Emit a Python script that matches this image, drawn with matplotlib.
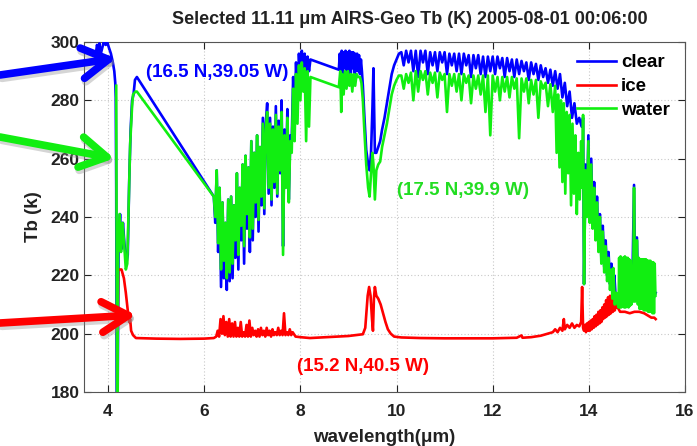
import matplotlib
matplotlib.use("Agg")
import matplotlib.pyplot as plt

plt.rcParams['font.family'] = ['Liberation Sans', 'DejaVu Sans']
plt.rcParams['font.weight'] = 'bold'

# ---------------- data ----------------
clear_wl = [3.74, 3.77, 3.80, 3.82, 3.85, 3.88, 3.91, 3.95, 3.98, 4.02, 4.06, 4.10, 4.13, 4.15, 4.16,
            4.17, 4.18, 4.20, 4.22, 4.25, 4.28, 4.31, 4.34, 4.38, 4.41, 4.44, 4.47, 4.50, 4.53, 4.56, 4.60,
            6.20, 6.23, 6.26, 6.29, 6.32, 6.35, 6.38, 6.41, 6.44, 6.47, 6.50, 6.53, 6.56, 6.59, 6.62, 6.65,
            6.68, 6.71, 6.74, 6.77, 6.80, 6.83, 6.86, 6.89, 6.92, 6.95, 6.98, 7.01, 7.04, 7.07, 7.10, 7.13,
            7.16, 7.19, 7.22, 7.25, 7.28, 7.31, 7.34, 7.37, 7.40, 7.43, 7.46, 7.49, 7.52, 7.55, 7.58, 7.61,
            7.64, 7.67, 7.70, 7.73, 7.76, 7.79, 7.82, 7.85, 7.88, 7.91, 7.94, 7.97, 8.00, 8.03, 8.06, 8.09,
            8.12, 8.15, 8.18, 8.21,
            8.80, 8.82, 8.84, 8.86, 8.88, 8.90, 8.92, 8.94, 8.96, 8.98, 9.00, 9.02, 9.04, 9.06, 9.08, 9.10,
            9.12, 9.14, 9.16, 9.18, 9.20, 9.22, 9.24, 9.26,
            9.28, 9.30, 9.33, 9.37, 9.41, 9.44, 9.47, 9.50, 9.52, 9.55, 9.58, 9.62, 9.66, 9.70, 9.75, 9.80,
            9.85, 9.90, 9.95, 10.00, 10.05,
            10.10, 10.15, 10.20, 10.25, 10.30, 10.35, 10.40, 10.45, 10.50, 10.55, 10.60, 10.65, 10.70, 10.75,
            10.80, 10.85, 10.90, 10.95, 11.00, 11.05, 11.10, 11.15, 11.20, 11.25, 11.30, 11.35, 11.40, 11.45,
            11.50, 11.55, 11.60, 11.65, 11.70, 11.75, 11.80, 11.85, 11.90, 11.95, 12.00, 12.05, 12.10, 12.15,
            12.20, 12.25, 12.30, 12.35, 12.40, 12.45, 12.50, 12.55, 12.60, 12.65, 12.70, 12.75, 12.80, 12.85,
            12.90, 12.95, 13.00, 13.05, 13.10, 13.15, 13.20, 13.25, 13.30,
            13.35, 13.40, 13.45, 13.50, 13.55, 13.60, 13.65, 13.70, 13.75, 13.80, 13.85, 13.88,
            13.90, 13.93, 13.96, 13.99, 14.02, 14.05, 14.08, 14.11, 14.14, 14.17, 14.20, 14.23, 14.26, 14.29,
            14.32, 14.35, 14.38, 14.41, 14.44, 14.47, 14.50, 14.53, 14.56, 14.60, 14.63, 14.70, 14.80, 14.90,
            14.94, 14.97, 15.00, 15.03, 15.10, 15.20, 15.30, 15.39]
clear_tb = [295, 299, 297, 299.5, 296, 298, 300, 299, 300, 298, 296, 293, 290, 286, 281,
            250, 175, 178, 233, 241, 229, 238, 231, 224, 227, 252, 270, 280, 282, 287, 288,
            247, 238, 256, 228, 250, 216, 245, 219, 238, 215, 246, 218, 247, 219, 244, 226,
            255, 222, 250, 232, 258, 224, 261, 236, 257, 228, 266, 232, 262, 240, 268, 235,
            264, 244, 274, 241, 272, 279, 248, 274, 244, 271, 250, 278, 247, 273, 255, 280,
            230, 270, 252, 277, 246, 268, 266, 288, 272, 293, 280, 296, 288, 297, 291, 296,
            280, 295, 290, 294,
            290.5, 296, 290, 297, 289, 296.5, 291, 297, 289, 296.5, 290, 297, 289, 296.5, 291, 296.5,
            289, 296, 290, 296, 290, 295.5, 289, 294,
            290, 285, 275, 263, 258, 256, 262, 278, 291, 262, 262, 264, 266, 270, 274, 279,
            284, 289, 292, 294, 296,
            296.5, 292, 297, 293, 297, 290, 297, 288, 297, 293, 297, 289, 296.5, 292,
            296.5, 290, 296.5, 293, 296.5, 289, 296, 292, 296, 290, 296, 289, 296, 292,
            295.5, 288, 295.5, 291, 295.5, 289, 295, 288, 295, 290, 295, 289, 295, 291,
            294.5, 288, 294.5, 290, 294, 288, 294, 289, 293.5, 290, 293, 287, 293, 289,
            292.5, 287, 292, 288, 291, 286, 290.5, 285, 290,
            284, 289, 281, 286, 278, 283, 274, 279, 272, 274, 271, 274,
            217, 258, 242, 268, 240, 260, 238, 252, 234, 247, 230, 241, 226, 237,
            223, 232, 220, 228, 217, 224, 214, 220, 212, 211, 212, 212, 212, 212,
            251, 212, 233, 211, 211, 210, 210, 214]

ice_wl = [4.20, 4.21, 4.28, 4.33, 4.37, 4.41, 4.44, 4.46, 4.48, 4.52, 4.58, 5.00, 5.50, 6.00, 6.20,
          6.25, 6.28, 6.31, 6.34, 6.37, 6.40, 6.43, 6.46, 6.49, 6.52, 6.55, 6.58, 6.61, 6.64, 6.67, 6.70,
          6.73, 6.76, 6.79, 6.82, 6.85, 6.88, 6.91, 6.94, 6.97, 7.00, 7.03, 7.06, 7.09, 7.12, 7.15, 7.18,
          7.21, 7.24, 7.27, 7.30, 7.33, 7.36, 7.39, 7.42, 7.45, 7.48, 7.51, 7.54, 7.57, 7.60, 7.63, 7.66,
          7.69, 7.72, 7.75, 7.78, 7.81, 7.84, 7.90, 8.00, 8.20, 8.80, 9.00, 9.30, 9.35, 9.40, 9.43, 9.46,
          9.49, 9.51, 9.53, 9.55, 9.58, 9.62, 9.67, 9.72, 9.77, 9.82, 9.88, 9.95, 10.10, 10.50, 11.00,
          11.50, 12.00, 12.50, 12.60, 12.62, 12.80, 13.00, 13.15, 13.25, 13.30, 13.35, 13.40, 13.45, 13.48,
          13.50, 13.55, 13.60, 13.65, 13.70, 13.75, 13.80, 13.84, 13.86, 13.88,
          13.90, 13.92, 13.94, 13.96, 13.98, 14.00, 14.02, 14.04, 14.06, 14.08, 14.10, 14.12, 14.14, 14.16,
          14.18, 14.20, 14.22, 14.24, 14.26, 14.28, 14.30, 14.32, 14.34, 14.36, 14.38, 14.40, 14.42, 14.44,
          14.46, 14.48, 14.50, 14.52, 14.54, 14.56, 14.58, 14.60, 14.65, 14.75, 14.85, 14.95, 15.05, 15.15,
          15.25, 15.30, 15.36, 15.39]
ice_tb = [198, 222, 222, 219, 214, 208, 204, 205, 201, 199.5, 198.5, 198.3, 198.2, 198.3, 198.5,
          199, 201, 199, 205, 200, 206, 199.5, 204, 199, 205, 199, 203.5, 199, 204, 199, 202,
          199, 204, 199, 200.5, 199, 203, 199, 204.5, 199, 202, 199.5, 201, 199, 201.5, 199, 202,
          199.5, 201, 199, 202, 199.5, 201, 199, 201.5, 199.5, 200.5, 199.5, 202, 199.5, 201, 199.5, 207,
          199.5, 200.5, 199.5, 201.5, 199.5, 200.5, 199, 198.8, 198.5, 199, 199.2, 199.8, 202, 213, 216, 213,
          205, 201, 212, 216, 213, 212, 210, 207, 204, 201.5, 200, 199, 198.7, 198.5, 198.4,
          198.4, 198.4, 198.6, 199.4, 198.6, 198.8, 199.3, 200, 200.5, 201.5, 200.5, 202, 201, 205,
          201.5, 203, 202, 203.5, 202, 203, 202.5, 204, 216, 202,
          201, 203, 200.5, 203.5, 201, 204, 201, 204.5, 201.5, 205, 202, 206, 202.5, 206.5,
          203, 207.5, 203.5, 208, 204, 209, 205, 210, 205.5, 211.5, 206, 212.5, 206.5, 213,
          207, 212, 207.5, 211, 208, 210, 209, 209, 207.5, 207.5, 207, 207.5, 207.5, 207,
          206, 205.5, 205.5, 205]

water_wl = [4.17, 4.18, 4.19, 4.21, 4.24, 4.27, 4.30, 4.33, 4.37, 4.40, 4.43, 4.46, 4.50, 4.52, 4.57, 4.60,
            6.20, 6.23, 6.26, 6.29, 6.32, 6.35, 6.38, 6.41, 6.44, 6.47, 6.50, 6.53, 6.56, 6.59, 6.62, 6.65,
            6.68, 6.71, 6.74, 6.77, 6.80, 6.83, 6.86, 6.89, 6.92, 6.95, 6.98, 7.01, 7.04, 7.07, 7.10, 7.13,
            7.16, 7.19, 7.22, 7.25, 7.28, 7.31, 7.34, 7.37, 7.40, 7.43, 7.46, 7.49, 7.52, 7.55, 7.58, 7.61,
            7.64, 7.67, 7.70, 7.73, 7.76, 7.79, 7.82, 7.85, 7.88, 7.91, 7.94, 7.97, 8.00, 8.03, 8.06, 8.09,
            8.12, 8.15, 8.18, 8.21,
            8.80, 8.83, 8.85, 8.87, 8.90, 8.93, 8.96, 8.99, 9.02, 9.05, 9.08, 9.11, 9.14, 9.17, 9.20, 9.24,
            9.27, 9.30, 9.33, 9.37, 9.41, 9.44, 9.47, 9.50, 9.52, 9.55, 9.58, 9.62, 9.66, 9.70, 9.75, 9.80,
            9.85, 9.90, 9.95, 10.00, 10.05,
            10.10, 10.15, 10.20, 10.25, 10.30, 10.35, 10.40, 10.45, 10.50, 10.55, 10.60, 10.65, 10.70, 10.75,
            10.80, 10.85, 10.90, 10.95, 11.00, 11.05, 11.10, 11.15, 11.20, 11.25, 11.30, 11.35, 11.40, 11.45,
            11.50, 11.55, 11.60, 11.65, 11.70, 11.75, 11.80, 11.85, 11.90, 11.95, 12.00, 12.05, 12.10, 12.15,
            12.20, 12.25, 12.30, 12.35, 12.40, 12.45, 12.50, 12.55, 12.60, 12.65, 12.70, 12.75, 12.80, 12.85,
            12.90, 12.95, 13.00, 13.05, 13.10, 13.15, 13.20, 13.25, 13.30,
            13.33, 13.36, 13.39, 13.42, 13.45, 13.48, 13.51, 13.54, 13.57, 13.60, 13.63, 13.66, 13.69, 13.72,
            13.75, 13.78, 13.81, 13.84, 13.86, 13.88,
            13.90, 13.93, 13.96, 13.99, 14.02, 14.05, 14.08, 14.11, 14.14, 14.17, 14.20, 14.23, 14.26, 14.29,
            14.32, 14.35, 14.38, 14.41, 14.44, 14.47, 14.49, 14.51, 14.54, 14.57, 14.60,
            14.620, 14.630, 14.645, 14.660, 14.675, 14.690, 14.705, 14.720, 14.735, 14.750, 14.765, 14.780,
            14.795, 14.810, 14.825, 14.840, 14.855, 14.870, 14.885, 14.900, 14.920, 14.940, 14.960, 14.980,
            15.000, 15.020, 15.040, 15.055, 15.070, 15.085, 15.100, 15.115, 15.130, 15.145, 15.160, 15.175,
            15.190, 15.205, 15.220, 15.235, 15.250, 15.265, 15.280, 15.295, 15.310, 15.325, 15.340, 15.355,
            15.370, 15.385]
water_tb = [285, 220, 175, 230, 241, 228, 238, 232, 222, 224, 245, 265, 278, 282, 283, 283,
            247, 240, 256, 231, 250, 222, 245, 225, 238, 219, 246, 221, 247, 224, 244, 232,
            255, 227, 250, 237, 258, 230, 261, 241, 257, 233, 266, 236, 262, 245, 268, 239,
            264, 247, 272, 243, 270, 276, 250, 272, 246, 270, 252, 275, 248, 271, 256, 276,
            227, 268, 250, 274, 245, 266, 262, 284, 266, 289, 272, 292, 280, 293, 283, 291,
            266, 290, 271, 288,
            284.5, 290, 276, 289, 282, 290, 284, 290, 285, 289, 283, 289, 285, 289, 288, 288,
            286, 280, 270, 258, 250, 247, 255, 262, 258, 246, 256, 258, 259, 264, 268, 272,
            277, 282, 285, 287, 288.5,
            288.5, 284, 289, 286, 289.5, 280, 290, 283, 290, 287, 290, 282, 289.5, 286,
            289.5, 281, 289.5, 287, 289, 276, 289, 285, 289, 283, 289, 280, 289, 286,
            288.5, 279, 288.5, 284, 288.5, 282, 288.5, 276, 288.5, 268, 288.5, 283, 288, 280,
            288, 283, 288, 281, 288, 284, 287.5, 267, 287.5, 283, 287.5, 279, 287, 282,
            287, 274, 286.5, 284, 286, 278, 285.5, 276, 285,
            262, 282, 257, 280, 252, 279, 248, 276, 255, 275, 244, 272, 248, 268,
            241, 262, 246, 266, 250, 275,
            217, 256, 240, 266, 238, 258, 236, 250, 232, 245, 228, 240, 224, 235,
            221, 230, 218, 226, 215, 222, 212, 222.5, 210, 214, 210,
            209, 226, 209, 226.5, 209, 226, 209.5, 226, 209, 226.5, 209, 226,
            209.5, 226, 209, 225.5, 209.5, 225, 210, 214, 211, 250, 211, 212,
            232, 210, 226, 208.5, 225.5, 208.5, 225.5, 208.5, 225.5, 208, 225.5, 208,
            225.5, 208, 225, 207.5, 225, 207.5, 225, 207.5, 224.5, 207, 224.5, 207,
            224, 213]

series_labels = ['clear', 'ice', 'water']
title_text = 'Selected 11.11 \u03bcm AIRS-Geo Tb (K) 2005-08-01 00:06:00'
xlabel_text = 'wavelength(\u03bcm)'
ylabel_text = 'Tb (k)'
xticks = [4, 6, 8, 10, 12, 14, 16]
yticks = [180, 200, 220, 240, 260, 280, 300]
annotations = [('(16.5 N,39.05 W)', 4.79, 289.7, 'blue'),
               ('(17.5 N,39.9 W)', 10.0, 249.0, '#22dd22'),
               ('(15.2 N,40.5 W)', 7.94, 188.8, 'red')]

# ---------------- figure ----------------
W, H = 697, 446
fig = plt.figure(figsize=(W / 100, H / 100), dpi=100)
ax = fig.add_axes([84 / W, 54 / H, 601 / W, 350 / H])

green = '#11ee11'
ax.plot(clear_wl, clear_tb, color='#0000ff', lw=1.9, label=series_labels[0], zorder=3)
ax.plot(ice_wl, ice_tb, color='#ff0000', lw=1.9, label=series_labels[1], zorder=4)
ax.plot(water_wl, water_tb, color=green, lw=1.9, label=series_labels[2], zorder=5)

ax.set_xlim(3.5, 16)
ax.set_ylim(180, 300)
ax.set_xticks(xticks)
ax.set_yticks(yticks)
ax.tick_params(direction='in', length=5, width=0.8, top=True, right=True,
               labelsize=12.5, colors='#222222')
ax.tick_params(axis='x', pad=9)
ax.tick_params(axis='y', pad=3)
for lab in ax.get_xticklabels() + ax.get_yticklabels():
    lab.set_fontweight('bold')
for sp in ax.spines.values():
    sp.set_color('#555555')
    sp.set_linewidth(0.8)
ax.grid(True, color='#c8c8c8', linestyle=(0, (1, 2)), linewidth=0.8, zorder=0)
ax.set_axisbelow(True)

ax.set_title(title_text, fontsize=13, fontweight='bold', pad=13, color='#222222', x=0.542)
ax.set_xlabel(xlabel_text, fontsize=13.5, fontweight='bold', labelpad=7, color='#222222')
ax.set_ylabel(ylabel_text, fontsize=13.5, fontweight='bold', labelpad=6, color='#222222')

for txt, x, y, c in annotations:
    ax.text(x, y, txt, color=c, fontsize=13.5, fontweight='bold', va='center', ha='left', zorder=6)

leg = ax.legend(loc='upper left', bbox_to_anchor=(0.82, 0.965), frameon=False,
                borderpad=0, borderaxespad=0, handlelength=2.1, handletextpad=0.25,
                labelspacing=0.35, prop={'size': 13.5, 'weight': 'bold'})

# ---------------- arrows (outside the axes, left side) ----------------
fig.canvas.draw()
arrow_specs = [((4.166, 294.4), (0, 371), '#0000ff'),
               ((4.13, 260.1), (0, 309), '#11ee11'),
               ((4.58, 206.4), (0, 123), '#ff0000')]
astyle = '->,head_length=1.9,head_width=1.1'
for tip, start, col in arrow_specs:
    tip_px = ax.transData.transform(tip)
    # shadow
    ax.annotate('', xy=(tip_px[0] + 2, tip_px[1] - 3), xycoords='figure pixels',
                xytext=(start[0] + 2, start[1] - 3), textcoords='figure pixels',
                arrowprops=dict(arrowstyle=astyle, lw=6,
                                color='#888888', alpha=0.35, shrinkA=0, shrinkB=0,
                                mutation_scale=10, capstyle='round', joinstyle='round'),
                annotation_clip=False, zorder=7)
    ax.annotate('', xy=tip, xycoords='data',
                xytext=start, textcoords='figure pixels',
                arrowprops=dict(arrowstyle=astyle, lw=5.5,
                                color=col, shrinkA=0, shrinkB=0,
                                mutation_scale=10, capstyle='round', joinstyle='round'),
                annotation_clip=False, zorder=8)

fig.savefig('out.png', dpi=100)
